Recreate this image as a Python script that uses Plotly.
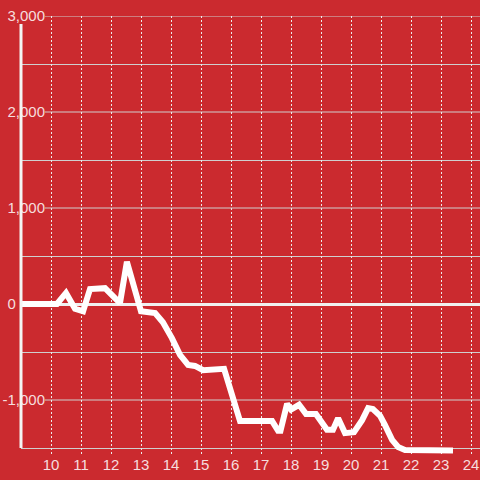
import plotly.graph_objects as go

# data
x_vals = [9.0, 10.2, 10.5, 10.8, 11.07, 11.3, 11.8, 12.3, 12.53, 13.0, 13.47, 13.73, 14.03, 14.3,
          14.57, 14.8, 15.07, 15.77, 16.3, 17.37, 17.57, 17.65, 17.87, 18.0, 18.27, 18.5, 18.83,
          19.2, 19.4, 19.57, 19.8, 20.1, 20.37, 20.57, 20.73, 20.97, 21.13, 21.37, 21.57, 21.8, 23.4]
y_vals = [0, 0, 115, -50, -75, 155, 165, 10, 440, -75, -95, -190, -355, -530,
          -635, -645, -690, -675, -1220, -1220, -1320, -1320, -1040, -1100, -1050, -1145, -1145,
          -1310, -1310, -1190, -1345, -1335, -1210, -1085, -1095, -1165, -1260, -1415, -1490, -1520, -1525]

x_ticks = list(range(10, 25))
x_labels = [str(t) for t in x_ticks]
y_major = [-1000, 0, 1000, 2000, 3000]
y_labels = ["-1,000", "0" + "\u00a0" * 7, "1,000", "2,000", "3,000"]
y_minor = [-1500, -500, 500, 1500, 2500]

BG = "#cb2a2f"
TXT = "rgba(255,255,255,0.85)"
GRID = "#cfcfcf"
FONT = dict(family="Liberation Sans, Arial, sans-serif", size=15, color=TXT)

fig = go.Figure()
fig.add_trace(go.Scatter(x=x_vals, y=y_vals, mode="lines",
                         line=dict(color="#ffffff", width=6), hoverinfo="skip"))

shapes = []
# mask for vertical grid below bottom gridline
shapes.append(dict(type="rect", xref="paper", yref="y", x0=0, x1=1, y0=-1562.5, y1=-1506,
                   fillcolor=BG, line=dict(width=0), layer="between"))
# labeled gridlines start after labels
for v in y_major:
    if v == 0:
        continue
    shapes.append(dict(type="line", xref="paper", yref="y", x0=24 / 459, x1=1, y0=v, y1=v,
                       line=dict(color=GRID, width=1), layer="below"))
# left axis line
shapes.append(dict(type="line", xref="paper", yref="y", x0=0, x1=0, y0=-1500, y1=2917,
                   line=dict(color="#f4f4f4", width=3), layer="above"))

fig.update_layout(
    width=480, height=480,
    margin=dict(l=21, r=0, t=16, b=26, pad=0),
    paper_bgcolor=BG, plot_bgcolor=BG,
    showlegend=False,
    shapes=shapes,
    xaxis=dict(range=[9, 24.3], tickmode="array", tickvals=x_ticks, ticktext=x_labels,
               showgrid=True, gridcolor="#ececec", griddash="2px,2px", gridwidth=1,
               zeroline=False, showline=False, ticks="", tickfont=FONT, fixedrange=True),
    yaxis=dict(range=[-1562.5, 3000], tickmode="array", tickvals=y_major, ticktext=y_labels,
               anchor="free", position=24 / 459,
               showgrid=False, zeroline=True, zerolinecolor="#f0f0f0", zerolinewidth=3,
               showline=False, ticks="", tickfont=FONT,
               minor=dict(tickvals=y_minor, showgrid=True, gridcolor=GRID, gridwidth=1),
               fixedrange=True),
)

fig.write_html("out.html", config={"displayModeBar": False},
               post_script="document.body.style.margin='0';document.body.style.background='%s';" % BG)
